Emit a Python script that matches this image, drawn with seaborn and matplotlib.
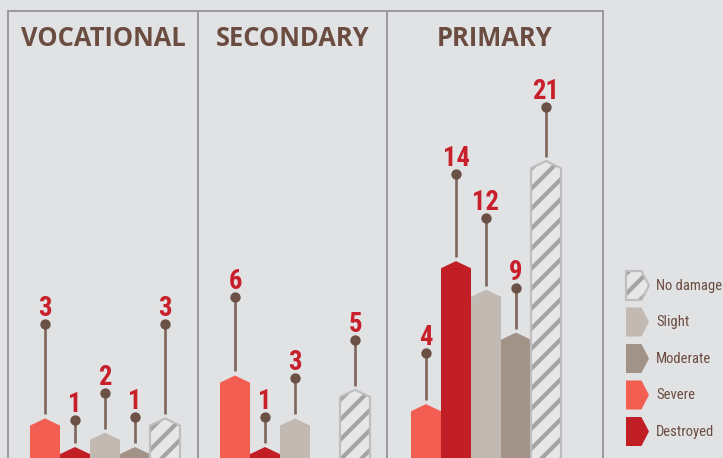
import os
import matplotlib
matplotlib.use("Agg")
import matplotlib.pyplot as plt
import seaborn as sns
import pandas as pd
from matplotlib import font_manager as fm
from matplotlib.patches import Polygon, Patch
from matplotlib.legend_handler import HandlerBase

# ---------------- data ----------------
damage_levels = ["Severe", "Destroyed", "Slight", "Moderate", "No damage"]
panel_titles = ["VOCATIONAL", "SECONDARY", "PRIMARY"]
vocational = [3, 1, 2, 1, 3]
secondary = [6, 1, 3, 0, 5]
primary = [4, 14, 12, 9, 21]
legend_order = ["No damage", "Slight", "Moderate", "Severe", "Destroyed"]

# ---------------- style / layout ----------------
BG = "#e1e2e4"
FRAME = "#9b9b9d"
TITLE_C = "#6b4c40"
LABEL_C = "#c8202b"
STEM_C = "#7d675c"
DOT_C = "#6a5045"
STRIPE = "#a3a3a5"
HBORDER = "#bebec0"
palette = {"Severe": "#f25f52", "Destroyed": "#c11e26", "Slight": "#c2b9b2",
           "Moderate": "#a29389", "No damage": "#e7e7e8"}
# leader (stem) lengths above each bar, in value units
stems = [[6.6, 1.9, 2.8, 2.1, 6.6],
         [5.5, 2.1, 2.85, 0.0, 3.5],
         [3.55, 6.1, 5.0, 3.15, 3.8]]

sns.set_theme(style="white")
plt.rcParams["hatch.linewidth"] = 2.5


def find_condensed(bold):
    pref = ["roboto", "liberation", "open sans", "noto sans", "dejavu", "lato", "inter"]
    found = []
    for f in fm.fontManager.ttflist:
        fn = os.path.basename(f.fname).lower()
        nm = f.name.lower()
        is_cond = ("condensed" in fn or "narrow" in fn or "condensed" in nm
                   or "narrow" in nm or f.stretch in ("condensed", "semi-condensed",
                                                      "extra-condensed"))
        if not is_cond or "mono" in fn or "serif" in nm or "italic" in fn \
                or "oblique" in fn or f.style != "normal":
            continue
        w = f.weight if isinstance(f.weight, int) else 400
        if bold and w < 600:
            continue
        if not bold and (w >= 600 or w < 350):
            continue
        rank = next((k for k, p in enumerate(pref) if p in nm), 99)
        found.append((rank, abs(w - (700 if bold else 400)), f.fname))
    if not found:
        return None
    found.sort()
    return found[0][2]


cond_bold = find_condensed(True)
cond_reg = find_condensed(False)


def fp(path, size, fallback_weight, fallback_size):
    if path:
        return fm.FontProperties(fname=path, size=size)
    return fm.FontProperties(family="DejaVu Sans", weight=fallback_weight,
                             size=fallback_size)


label_fp = fp(cond_bold, 16, "bold", 14)
legend_fp = fp(cond_reg, 8.8, "normal", 7.6)

DPI = 120
W, H = 723, 458
fig = plt.figure(figsize=(W / DPI, H / DPI), dpi=DPI, facecolor=BG)

# panel pixel extents (left, width) and bar-group left offset in px
panels_px = [(8, 190, 22), (198, 189, 22), (387, 216, 24)]
top_px = 11
bar_px = 30.0
px_per_unit = 14.3
base_px = 461.3
ylo = (base_px - H) / px_per_unit
yhi = (base_px - top_px) / px_per_unit
CAP = 0.5

values_all = [vocational, secondary, primary]

for i, (title, vals) in enumerate(zip(panel_titles, values_all)):
    left, width, off = panels_px[i]
    ax = fig.add_axes([left / W, 0, width / W, (H - top_px) / H])
    ax.set_facecolor(BG)
    df = pd.DataFrame({"damage": damage_levels, "count": vals})
    sns.barplot(data=df, x="damage", y="count", hue="damage", order=damage_levels,
                hue_order=damage_levels, palette=palette, width=1.0, ax=ax,
                legend=False, errorbar=None, saturation=1)
    x0 = -0.5 - off / bar_px
    ax.set_xlim(x0, x0 + width / bar_px)
    ax.set_ylim(ylo, yhi)
    rects = list(ax.patches)
    for r in rects:
        bx, bw, bh = r.get_x(), r.get_width(), r.get_height()
        fc = r.get_facecolor()
        r.set_visible(False)
        if bh <= 0:
            continue
        idx = int(round(bx + bw / 2))
        name = damage_levels[idx]
        sh = max(bh - CAP, 0)
        pts = [(bx, 0), (bx + bw, 0), (bx + bw, sh), (bx + bw / 2, bh), (bx, sh)]
        if name == "No damage":
            ax.add_patch(Polygon(pts, closed=True, facecolor=fc, edgecolor=STRIPE,
                                 hatch="//", lw=0, zorder=2))
            ax.add_patch(Polygon(pts, closed=True, fill=False, edgecolor=HBORDER,
                                 lw=1.3, zorder=3))
        else:
            ax.add_patch(Polygon(pts, closed=True, facecolor=fc, edgecolor="none",
                                 lw=0, zorder=2))
        top = bh + stems[i][idx]
        ax.plot([idx, idx], [bh + 0.28, top], color=STEM_C, lw=1.6, zorder=4,
                solid_capstyle="butt")
        ax.plot([idx], [top], "o", color=DOT_C, ms=5.2, zorder=5)
        ax.text(idx, top + 0.55, f"{int(bh)}", ha="center", va="baseline",
                color=LABEL_C, fontproperties=label_fp, zorder=6)
    ax.text(0.5, (H - 38) / (H - top_px), title, transform=ax.transAxes,
            ha="center", va="center", color=TITLE_C, fontsize=15.3,
            fontweight="bold", family=["Open Sans", "DejaVu Sans"])
    ax.set_xticks([])
    ax.set_yticks([])
    ax.set_xlabel("")
    ax.set_ylabel("")
    for s in ["top", "left", "right"]:
        ax.spines[s].set_visible(True)
        ax.spines[s].set_color(FRAME)
        ax.spines[s].set_linewidth(1.2)
    ax.spines["bottom"].set_visible(False)


class PentagonHandler(HandlerBase):
    def create_artists(self, legend, orig_handle, xdescent, ydescent, width,
                       height, fontsize, trans):
        x0, y0 = -xdescent, -ydescent
        pts = [(x0, y0), (x0 + 0.67 * width, y0), (x0 + width, y0 + height / 2),
               (x0 + 0.67 * width, y0 + height), (x0, y0 + height)]
        p = Polygon(pts, closed=True, transform=trans)
        p.update_from(orig_handle)
        p.set_transform(trans)
        arts = [p]
        if orig_handle.get_hatch():
            b = Polygon(pts, closed=True, fill=False, edgecolor=HBORDER, lw=1.3,
                        transform=trans)
            arts.append(b)
        return arts


handles = []
for name in legend_order:
    if name == "No damage":
        handles.append(Patch(facecolor=palette[name], edgecolor=STRIPE, hatch="//",
                             lw=0, label=name))
    else:
        handles.append(Patch(facecolor=palette[name], edgecolor="none", lw=0,
                             label=name))

fs_pt = legend_fp.get_size_in_points()
px2pt = 72 / DPI
box_h_pt = 29 * px2pt
hh = (box_h_pt / fs_pt - 0.245) / 0.65
leg = fig.legend(handles=handles, labels=legend_order,
                 handler_map={Patch: PentagonHandler()},
                 loc="upper left", bbox_to_anchor=(626 / W, 1 - 271 / H),
                 frameon=False, borderpad=0, borderaxespad=0,
                 handlelength=23 * px2pt / fs_pt, handleheight=hh,
                 labelspacing=7.5 * px2pt / fs_pt, handletextpad=7 * px2pt / fs_pt,
                 prop=legend_fp)
for t in leg.get_texts():
    t.set_color(TITLE_C)

fig.savefig("out.png", dpi=DPI, facecolor=BG)
